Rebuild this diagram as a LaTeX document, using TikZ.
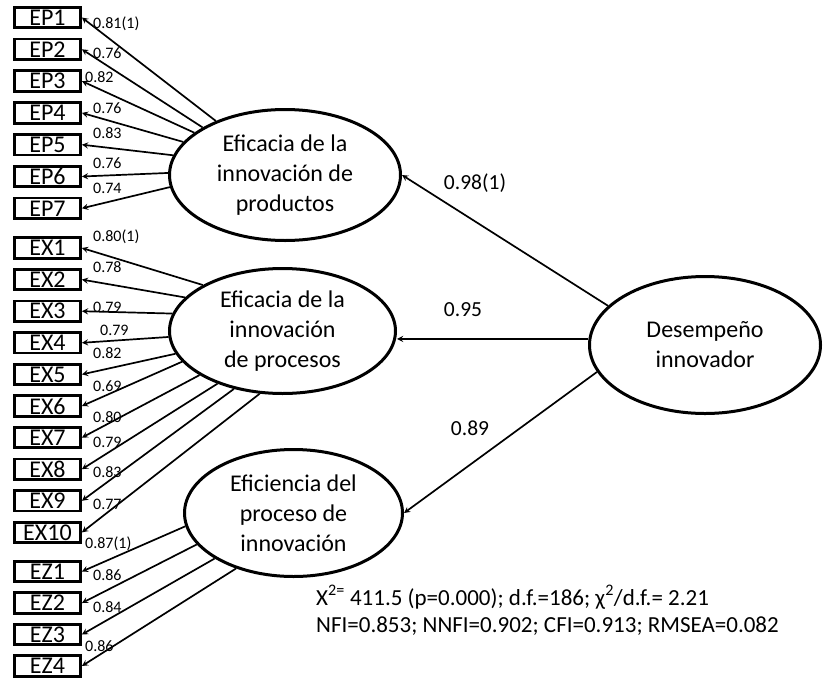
\documentclass[tikz,border=0pt]{standalone}
\usepackage{fontspec}
\setmainfont{Carlito}
\usetikzlibrary{arrows,shapes.geometric}

\tikzset{
  item/.style={draw,line width=2.8pt,minimum width=66pt,minimum height=20.5pt,inner sep=0pt,font=\fontsize{24}{24}\selectfont},
  factor/.style={draw,ellipse,line width=3pt,align=center,inner sep=0pt,font=\fontsize{24}{30}\selectfont},
  load/.style={line width=1.7pt,-stealth},
  coef/.style={anchor=west,inner sep=0pt,font=\fontsize{16}{16}\selectfont},
  bigcoef/.style={inner sep=0pt,font=\fontsize{21.5}{21.5}\selectfont},
  fitline/.style={anchor=base west,inner sep=0pt,font=\fontsize{23}{23}\selectfont}
}

\begin{document}
\begin{tikzpicture}[x=1pt,y=-1pt]
\useasboundingbox (0,0) rectangle (824,680);
% latent factors
\node [factor,minimum width=231pt,minimum height=131pt] (prod) at (285,175) {Eficacia de la\\innovación de\\productos};
\node [factor,minimum width=226pt,minimum height=125pt] (proc) at (282.5,331) {Eficacia de la\\innovación\\de procesos};
\node [factor,minimum width=218pt,minimum height=127pt] (efic) at (293.5,513) {Eficiencia del\\proceso de\\innovación};
\node [factor,minimum width=231pt,minimum height=137pt] (des) at (705,345) {Desempeño\\innovador};
% indicators
\node [item] (ep1) at (47.5,17.5) {EP1};
\node [item] (ep2) at (47.5,49.3) {EP2};
\node [item] (ep3) at (47.5,81.1) {EP3};
\node [item] (ep4) at (47.5,112.9) {EP4};
\node [item] (ep5) at (47.5,144.7) {EP5};
\node [item] (ep6) at (47.5,176.5) {EP6};
\node [item] (ep7) at (47.5,208.3) {EP7};
\node [item] (ex1) at (47.5,248) {EX1};
\node [item] (ex2) at (47.5,279.6) {EX2};
\node [item] (ex3) at (47.5,311.2) {EX3};
\node [item] (ex4) at (47.5,342.8) {EX4};
\node [item] (ex5) at (47.5,374.4) {EX5};
\node [item] (ex6) at (47.5,406) {EX6};
\node [item] (ex7) at (47.5,437.6) {EX7};
\node [item] (ex8) at (47.5,469.2) {EX8};
\node [item] (ex9) at (47.5,500.8) {EX9};
\node [item] (ex10) at (47.5,532.4) {EX10};
\node [item] (ez1) at (47.5,571.5) {EZ1};
\node [item] (ez2) at (47.5,603) {EZ2};
\node [item] (ez3) at (47.5,634.5) {EZ3};
\node [item] (ez4) at (47.5,666) {EZ4};
% second order loadings
\draw [load] (des.158) to (prod.east);
\draw [load] (des.177) to (des.177 -| proc.east);
\draw [load] (des.194) to (efic.east);
\node [bigcoef] (cprod) at (475,183) {0.98(1)};
\node [bigcoef] (cproc) at (463,310) {0.95};
\node [bigcoef] (cefic) at (470,428) {0.89};
% first order loadings
\draw [load] (prod.142) to (ep1.east);
\draw [load] (prod.150.5) to (ep2.east);
\draw [load] (prod.155.5) to (ep3.east);
\draw [load] (prod.162.7) to (ep4.east);
\draw [load] (prod.170.3) to (ep5.east);
\draw [load] (prod.179) to (ep6.east);
\draw [load] (prod.186.3) to (ep7.east);
\draw [load] (proc.150.4) to (ex1.east);
\draw [load] (proc.161.7) to (ex2.east);
\draw [load] (proc.171.2) to (ex3.east);
\draw [load] (proc.183) to (ex4.east);
\draw [load] (proc.192.1) to (ex5.east);
\draw [load] (proc.197.8) to (ex6.east);
\draw [load] (proc.208.8) to (ex7.east);
\draw [load] (proc.219.2) to (ex8.east);
\draw [load] (proc.230.4) to (ex9.east);
\draw [load] (proc.250) to (ex10.east);
\draw [load] (efic.187.7) to (ez1.east);
\draw [load] (efic.198.3) to (ez2.east);
\draw [load] (efic.210.4) to (ez3.east);
\draw [load] (efic.224.7) to (ez4.east);
% loading values
\node [coef] (lep1) at (93,24) {0.81(1)};
\node [coef] (lep2) at (93,53) {0.76};
\node [coef] (lep3) at (85,77) {0.82};
\node [coef] (lep4) at (93,108) {0.76};
\node [coef] (lep5) at (93,133) {0.83};
\node [coef] (lep6) at (93,163) {0.76};
\node [coef] (lep7) at (93,188) {0.74};
\node [coef] (lex1) at (93,237) {0.80(1)};
\node [coef] (lex2) at (93,267) {0.78};
\node [coef] (lex3) at (93,307) {0.79};
\node [coef] (lex4) at (100,330) {0.79};
\node [coef] (lex5) at (93,353) {0.82};
\node [coef] (lex6) at (93,386) {0.69};
\node [coef] (lex7) at (93,417) {0.80};
\node [coef] (lex8) at (93,442) {0.79};
\node [coef] (lex9) at (93,472) {0.83};
\node [coef] (lex10) at (93,504) {0.77};
\node [coef] (lez1) at (85,544) {0.87(1)};
\node [coef] (lez2) at (93,575) {0.86};
\node [coef] (lez3) at (93,607) {0.84};
\node [coef] (lez4) at (85,646) {0.86};
% fit indices
\node [fitline] (fit1) at (316,605) {X\textsuperscript{2=} 411.5 (p=0.000); d.f.=186; χ\textsuperscript{2}/d.f.= 2.21};
\node [fitline] (fit2) at (316,632) {NFI=0.853; NNFI=0.902; CFI=0.913; RMSEA=0.082};
\end{tikzpicture}
\end{document}
